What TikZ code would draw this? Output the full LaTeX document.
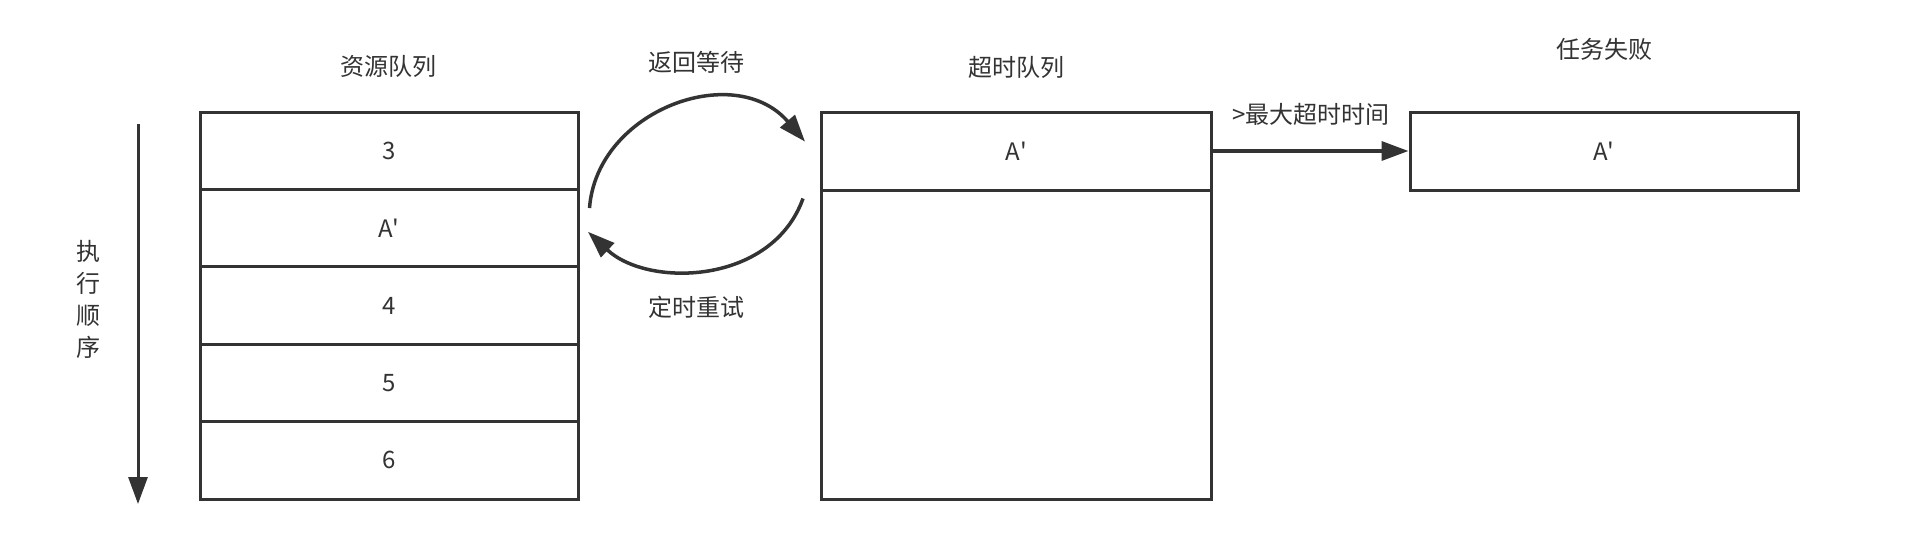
\documentclass[tikz,border=0pt]{standalone}
\usepackage{fontspec}
\setmainfont{Noto Sans CJK SC}
\usetikzlibrary{arrows.meta}
\definecolor{ink}{HTML}{333333}
\newcommand\Aprime{A\textquotesingle}
\tikzset{
  cell/.style={draw=ink, line width=3pt, minimum width=378pt, minimum height=77.4pt, inner sep=0pt, text=ink, font=\fontsize{24}{30}\selectfont},
  lbl/.style={text=ink, inner sep=0pt, font=\fontsize{24}{32}\selectfont},
  conn/.style={draw=ink, line width=3.5pt, -{Triangle[length=27pt,width=19pt]}},
}
\begin{document}
\begin{tikzpicture}[x=1pt,y=-1pt]
\useasboundingbox[fill=white] (0,0) rectangle (1916,544);
% resource queue
\node[cell] (r1) at (389,150.7) {3};
\node[cell] (r2) at (389,228.1) {\Aprime};
\node[cell] (r3) at (389,305.5) {4};
\node[cell] (r4) at (389,382.9) {5};
\node[cell] (r5) at (389,460.3) {6};
\node[lbl] (t1) at (388,66) {资源队列};
% timeout queue
\node[cell, minimum width=390pt, minimum height=78pt] (q1) at (1016.5,151) {\Aprime};
\node[cell, minimum width=390pt, minimum height=309pt] (q2) at (1016.5,344.5) {};
\node[lbl] (t2) at (1016,67.7) {超时队列};
% failure
\node[cell, minimum width=388pt, minimum height=78pt] (f1) at (1604,151) {\Aprime};
\node[lbl] (t3) at (1604,49.6) {任务失败};
% order arrow
\coordinate (o1) at (138,124);
\coordinate (o2) at (138,504);
\draw[conn, line width=3pt] (o1) -- (o2);
\node[lbl, align=center, font=\fontsize{24}{31.8}\selectfont] (ord) at (88.6,299.5) {执\\行\\顺\\序};
% curved arrows
\coordinate (a1) at (589.5,208);
\coordinate (a2) at (805,141.6);
\coordinate (b1) at (803,198.5);
\coordinate (b2) at (588,231.8);
\draw[conn] (a1) .. controls (597,110) and (735,60) .. (a2);
\draw[conn] (b1) .. controls (772,285) and (648,288) .. (b2);
\node[lbl] (w1) at (696,62) {返回等待};
\node[lbl] (w2) at (696,307) {定时重试};
% timeout arrow
\draw[conn] (q1.east) -- (f1.west);
\node[lbl] (w3) at (1311,114.5) {>最大超时时间};
\end{tikzpicture}
\end{document}
